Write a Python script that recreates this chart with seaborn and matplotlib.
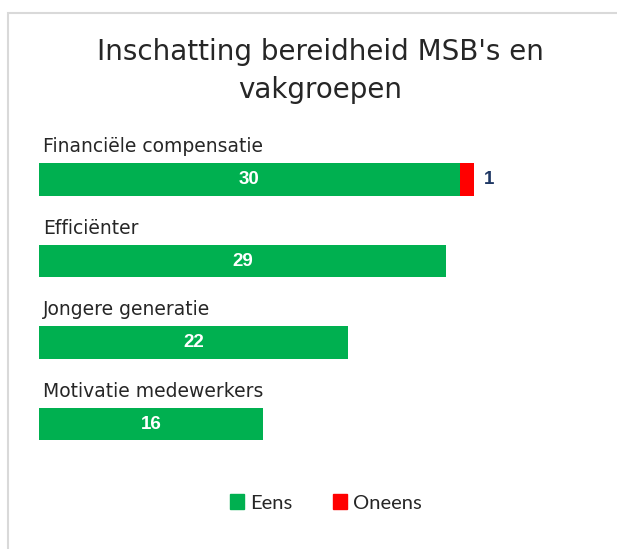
import matplotlib
matplotlib.use("Agg")
import matplotlib.pyplot as plt
import matplotlib.patches as mpatches
import seaborn as sns
import pandas as pd

# data
categorieen = ["Financiële compensatie", "Efficiënter", "Jongere generatie", "Motivatie medewerkers"]
eens = [30, 29, 22, 16]
oneens = [1, 0, 0, 0]

groen = "#00B050"
rood = "#FF0000"

df = pd.DataFrame({"categorie": categorieen, "eens": eens, "oneens": oneens})
df["totaal"] = df["eens"] + df["oneens"]

sns.set_style("white")
plt.rcParams["font.family"] = ["Lato", "DejaVu Sans"]

fig = plt.figure(figsize=(6.17, 5.49), dpi=100)
fig.patch.set_facecolor("white")

# kader (alleen boven en links zichtbaar)
fig.add_artist(mpatches.Rectangle((8 / 617, -0.2), 1.5, 1.2 - 13 / 549,
                                  transform=fig.transFigure, fill=False,
                                  edgecolor="#D9D9D9", lw=1.5))

ax = fig.add_axes([39 / 617, 0.1386, 561 / 617, 0.6532])

# gestapeld: eerst totaal in rood, dan eens in groen erover
sns.barplot(data=df, y="categorie", x="totaal", color=rood, width=0.4,
            orient="h", ax=ax, saturation=1, linewidth=0)
sns.barplot(data=df, y="categorie", x="eens", color=groen, width=0.4,
            orient="h", ax=ax, saturation=1, linewidth=0)

ax.set_xlim(0, 40)
ax.set_ylim(3.6, -0.8)
ax.set_xlabel("")
ax.set_ylabel("")
ax.set_xticks([])
ax.set_yticks([])
for s in ax.spines.values():
    s.set_visible(False)
ax.patch.set_alpha(0)

for i, row in df.iterrows():
    ax.text(0.3, i - 0.4, row["categorie"], va="center", ha="left",
            fontsize=13.5, color="#262626", family=["DejaVu Sans"])
    ax.text(row["eens"] / 2, i, str(row["eens"]), va="center", ha="center",
            fontsize=13.5, color="white", fontweight="bold",
            family=["Liberation Sans", "DejaVu Sans"])
    if row["oneens"] > 0:
        ax.text(row["totaal"] + 0.7, i, str(row["oneens"]), va="center", ha="left",
                fontsize=13.5, color="#1F3864", fontweight="bold",
                family=["Liberation Sans", "DejaVu Sans"])

fig.text(320 / 617, 1 - 52 / 549, "Inschatting bereidheid MSB's en", ha="center",
         va="center", fontsize=20, color="#262626", family=["DejaVu Sans"])
fig.text(320 / 617, 1 - 90 / 549, "vakgroepen", ha="center",
         va="center", fontsize=20, color="#262626", family=["DejaVu Sans"])

handles = [mpatches.Patch(color=groen, label="Eens"),
           mpatches.Patch(color=rood, label="Oneens")]
fig.legend(handles=handles, loc="center", bbox_to_anchor=(326 / 617, 1 - 503 / 549),
           ncol=2, frameon=False, fontsize=14.5, handlelength=0.7, handleheight=0.7,
           handletextpad=0.3, columnspacing=2.0, labelcolor="#262626")

fig.savefig("out.png", dpi=100, facecolor="white")
